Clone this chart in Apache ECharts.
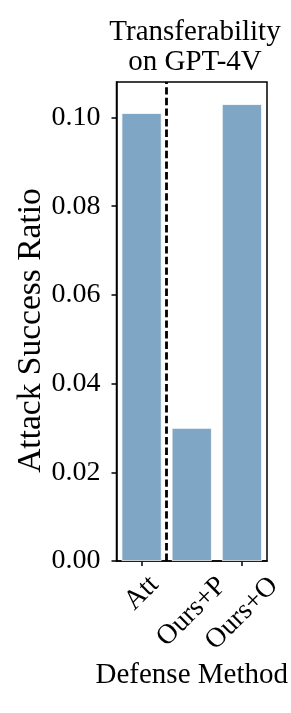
<!DOCTYPE html>
<html>
<head>
<meta charset="utf-8">
<script src="https://cdn.jsdelivr.net/npm/echarts@6/dist/echarts.min.js"></script>
<style>
html,body{margin:0;padding:0;background:#fff;}
#c{width:291px;height:713px;}
</style>
</head>
<body>
<div id="c"></div>
<script>
// ---- data ----
const categories = ['Att', 'Ours+P', 'Ours+O'];
const successRatio = [0.1010, 0.0300, 0.1030];
const yTicks = [0, 0.02, 0.04, 0.06, 0.08, 0.10];
const yMax = 0.108;
const separatorAt = [0.5]; // boundary between Att and Ours+P
const titleText = 'Transferability\non GPT-4V';
const xName = 'Defense Method';
const yName = 'Attack Success Ratio';

const FONT = '"Liberation Serif", "Times New Roman", serif';
const LABEL_FONT = '28px "Liberation Serif", "Times New Roman", serif';
const chart = echarts.init(document.getElementById('c'), null, {renderer: 'canvas'});

// text width measurement (for matplotlib-like centred rotated tick labels)
const mctx = document.createElement('canvas').getContext('2d');
mctx.font = LABEL_FONT;
const textW = s => mctx.measureText(s).width;

function renderTickLabel(params, api) {
  const idx = api.value(0);
  const p = api.coord([idx, 0]);
  const txt = categories[idx];
  const L = textW(txt);
  return {
    type: 'text',
    x: p[0],
    y: p[1] + 19 + 0.37 * L,
    rotation: Math.PI / 4,
    style: {
      text: txt, font: LABEL_FONT, fill: '#000',
      align: 'center', verticalAlign: 'middle'
    }
  };
}

chart.setOption({
  animation: false,
  backgroundColor: '#fff',
  title: {
    text: titleText,
    left: 190,
    top: 12,
    textAlign: 'center',
    textStyle: {fontFamily: FONT, fontSize: 29, fontWeight: 'normal', color: '#000', lineHeight: 30}
  },
  grid: {
    left: 116.5, right: 24, top: 82, bottom: 152,
    show: true, borderColor: '#000', borderWidth: 1.5,
    outerBoundsMode: 'none', containLabel: false
  },
  xAxis: [{
    type: 'category',
    data: categories,
    name: xName,
    nameLocation: 'middle',
    nameGap: 100,
    nameMoveOverlap: false,
    nameTextStyle: {fontFamily: FONT, fontSize: 29, color: '#000'},
    axisLine: {show: true, onZero: false, lineStyle: {color: '#000', width: 1.5}},
    axisTick: {show: true, alignWithLabel: true, length: 5, lineStyle: {color: '#000', width: 1.5}},
    axisLabel: {show: false},
    splitLine: {show: false}
  }, {
    type: 'value', show: false, min: -0.5, max: 2.5
  }],
  yAxis: {
    type: 'value',
    min: 0, max: yMax,
    name: yName,
    nameLocation: 'middle',
    nameGap: 68,
    nameMoveOverlap: false,
    nameTextStyle: {fontFamily: FONT, fontSize: 33.5, color: '#000', padding: [0, 18, 0, 0]},
    axisLine: {show: true, onZero: false, lineStyle: {color: '#000', width: 1.5}},
    axisTick: {show: true, length: 5, customValues: yTicks, lineStyle: {color: '#000', width: 1.5}},
    axisLabel: {
      customValues: yTicks, margin: 16,
      fontFamily: FONT, fontSize: 28, color: '#000',
      formatter: v => v.toFixed(2)
    },
    splitLine: {show: false}
  },
  series: [{
    type: 'bar',
    data: successRatio,
    xAxisIndex: 0,
    barCategoryGap: '20%',
    itemStyle: {color: '#7fa6c4', borderColor: '#ffffff', borderWidth: 0.8}
  }, {
    type: 'line',
    xAxisIndex: 1,
    yAxisIndex: 0,
    data: [],
    silent: true,
    markLine: {
      silent: true,
      symbol: ['none', 'none'],
      label: {show: false},
      lineStyle: {color: '#000', width: 2.8, type: [7.4, 3.2]},
      data: separatorAt.map(v => ({xAxis: v}))
    }
  }, {
    type: 'custom',
    xAxisIndex: 0,
    yAxisIndex: 0,
    silent: true,
    clip: false,
    data: categories.map((c, i) => [i, 0]),
    renderItem: renderTickLabel
  }]
});
</script>
</body>
</html>
